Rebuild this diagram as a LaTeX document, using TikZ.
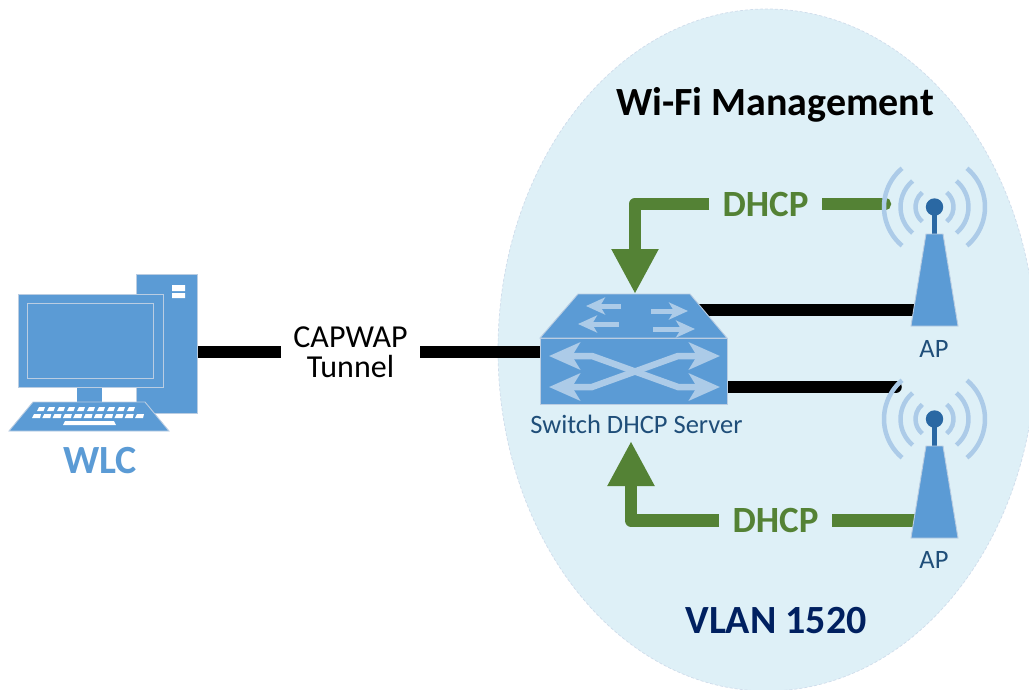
\documentclass[tikz,border=0pt]{standalone}
\usepackage{fontspec}
\setmainfont{Carlito}
\usepackage{xcolor}
\usetikzlibrary{arrows.meta,backgrounds}
\definecolor{wlanBlue}{RGB}{91, 155, 213}
\definecolor{wlanDark}{RGB}{42, 104, 163}
\definecolor{wlanLight}{RGB}{172, 203, 232}
\definecolor{wlanEdge}{RGB}{186, 205, 226}
\definecolor{wlanGreen}{RGB}{84, 130, 53}
\definecolor{wlanZone}{RGB}{222, 240, 247}
\definecolor{wlanNavy}{RGB}{0, 32, 96}
\definecolor{wlanLabel}{RGB}{31, 78, 121}
\tikzset{
  part/.style={draw=wlanEdge, fill=wlanBlue, line width=0.9pt, inner sep=0pt, outer sep=0pt},
  wire/.style={line width=11.5pt, black},
  dhcpline/.style={line width=12.5pt, wlanGreen, line join=round},
  wave/.style={line width=4.5pt, wlanLight},
  swarrow/.style={line width=5pt, wlanLight, -{Stealth[length=19pt, width=17pt, inset=5pt]}},
  crossarrow/.style={line width=6.5pt, wlanLight, {Stealth[length=31pt, width=27pt, inset=8pt]}-{Stealth[length=31pt, width=27pt, inset=8pt]}},
  apbox/.style={minimum height=92pt, minimum width=47pt, inner sep=0pt, outer sep=0pt},
  dhcplabel/.style={font=\fontsize{37}{40}\selectfont\bfseries, text=wlanGreen, minimum width=113pt, inner sep=0pt, outer sep=0pt},
  smalllabel/.style={font=\fontsize{26.5}{28}\selectfont, text=wlanLabel, inner sep=0pt}
}
\begin{document}
\begin{tikzpicture}[x=1pt, y=-1pt]
  \useasboundingbox (0,0) rectangle (1029,689);

  \node[part, minimum width=61pt, minimum height=139pt] (tower) at (166.5,343.5) {};
  \fill[white] (172,285) rectangle (185,291) (172,293) rectangle (185,298);
  \node[part, draw=none, minimum width=25pt, minimum height=20pt] (stand) at (89.5,394) {};
  \node[part, minimum width=145pt, minimum height=93pt] (monitor) at (90.5,340.5) {};
  \node[part, minimum width=126pt, minimum height=75pt] (screen) at (90,340.5) {};
  \draw[part] (33,402) -- (145,402) -- (169,431) -- (9,431) -- cycle;
  \foreach \i in {0,...,9}
    \fill[white] ({39+10*\i},407) -- ({45+10*\i},407) -- ({43.5+10*\i},411) -- ({37+10*\i},411) -- cycle;
  \foreach \i in {0,...,10}
    \fill[white] ({34+10.3*\i},414) -- ({41+10.3*\i},414) -- ({40+10.3*\i},418) -- ({32+10.3*\i},418) -- cycle;
  \fill[white] (65,421) -- (114,421) -- (116,425) -- (63,425) -- cycle;
  \node[font=\fontsize{40}{42}\selectfont\bfseries, text=wlanBlue] (wlc) at (100,461) {WLC};

  \node[font=\fontsize{32}{30}\selectfont, align=center, minimum width=139pt, inner sep=0pt, outer sep=0pt] (tunnel) at (350.5,352) {CAPWAP\\Tunnel};

  \node[font=\fontsize{40}{44}\selectfont\bfseries] (title) at (775,105) {Wi-Fi Management};
  \node[font=\fontsize{40}{44}\selectfont\bfseries, text=wlanNavy] (vlan) at (776,621) {VLAN 1520};

  \draw[part] (540,338) -- (578,294) -- (690,294) -- (727,338) -- cycle;
  \node[part, minimum width=187pt, minimum height=66pt] (sw) at (633.5,371) {};
  \draw[swarrow] (621,306) -- (586,306);
  \draw[swarrow] (619,324) -- (578,324);
  \draw[swarrow] (651,311) -- (688,311);
  \draw[swarrow] (653,329) -- (695,329);
  \draw[crossarrow] (549,356) -- (592,356) -- (678,387) -- (720,387);
  \draw[crossarrow] (549,387) -- (592,387) -- (678,356) -- (720,356);
  \node[smalllabel] (swlabel) at (636.5,424) {Switch DHCP Server};

  \node[apbox] (apa) at (934.5,280) {};
  \node[apbox] (apb) at (934.5,492) {};
  \foreach \apname/\ypos in {apa/207, apb/419} {
    \draw[wlanDark, line width=5pt] (934.5,\ypos) -- (\apname.north);
    \fill[wlanDark] (934.5,\ypos) circle (8.7pt);
    \draw[part] (\apname.south west) -- (\apname.south east) -- ([xshift=-15pt]\apname.north east) -- ([xshift=15pt]\apname.north west) -- cycle;
    \foreach \rad in {19,34,50.5} {
      \draw[wave] ({934.5+\rad*cos(130)},{\ypos-\rad*sin(130)}) arc[start angle=130, end angle=230, radius=\rad pt];
      \draw[wave] ({934.5+\rad*cos(50)},{\ypos+\rad*sin(50)}) arc[start angle=-50, end angle=50, radius=\rad pt];
    }
  }
  \node[smalllabel] (apalabel) at (934,349) {AP};
  \node[smalllabel] (apblabel) at (934,560) {AP};

  \node[dhcplabel] (dhcpa) at (765.5,204) {DHCP};
  \node[dhcplabel] (dhcpb) at (775.5,520.5) {DHCP};
  \coordinate (swtop) at (635,294);
  \coordinate (swdown) at (631,441);
  \coordinate (dhcpend) at (891,204);
  \coordinate (linea) at (690,310);
  \coordinate (lineb) at (896,387);

  \begin{scope}[on background layer]
    \begin{scope}
      \clip (0,0) rectangle (1029,689);
      \draw[wlanEdge!70, densely dashed, fill=wlanZone, line width=0.7pt] (767,350) ellipse [x radius=269pt, y radius=341pt];
    \end{scope}
    \draw[wire] (tower.east |- tunnel) -- (tunnel.west);
    \draw[wire] (tunnel.east) -- (sw.west |- tunnel);
    \draw[wire] (linea) -- (linea -| apa);
    \draw[wire, line cap=round] (sw.east |- lineb) -- (lineb);
    \draw[dhcpline, -{Triangle[length=45pt, width=44pt]}] (dhcpa.west) -| (swtop);
    \draw[dhcpline, -{Triangle[length=45pt, width=44pt]}] (dhcpb.west) -| (swdown);
    \draw[dhcpline, -{Circle[length=12.5pt, width=12.5pt]}] (dhcpa.east) -- (dhcpend);
    \draw[dhcpline] (dhcpb.east) -- (dhcpb.east -| apb);
  \end{scope}
\end{tikzpicture}
\end{document}
